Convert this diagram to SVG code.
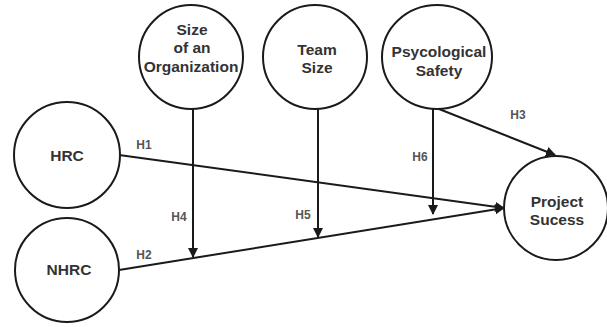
<svg xmlns="http://www.w3.org/2000/svg" width="607" height="327" viewBox="0 0 607 327">
<defs>
<marker id="arr" viewBox="0 0 10 10" refX="9" refY="5" markerWidth="5" markerHeight="5" orient="auto" markerUnits="strokeWidth">
<path d="M0,0 L10,5 L0,10 z" fill="#1a1a1a"/>
</marker>
<style>
.node circle, .node ellipse { fill: #fff; stroke: #1a1a1a; stroke-width: 2; }
.lbl { font-family: "Liberation Sans", Arial, sans-serif; font-weight: bold; font-size: 15.5px; fill: #333; text-anchor: middle; }
.h { font-family: "Liberation Sans", Arial, sans-serif; font-weight: bold; font-size: 12px; fill: #555; text-anchor: middle; }
.edge { stroke: #1a1a1a; stroke-width: 2; fill: none; marker-end: url(#arr); }
</style>
</defs>
<rect width="607" height="327" fill="#fff"/>
<g id="connectors">
<line class="edge" x1="119" y1="155" x2="504" y2="208"/>
<line class="edge" x1="119" y1="270" x2="504" y2="208"/>
<line class="edge" x1="193" y1="109" x2="193" y2="257"/>
<line class="edge" x1="318" y1="109" x2="318" y2="237"/>
<line class="edge" x1="433" y1="109" x2="433" y2="214"/>
<line class="edge" x1="439" y1="109" x2="555" y2="155"/>
<text class="h" x="144" y="149">H1</text>
<text class="h" x="144" y="259">H2</text>
<text class="h" x="518" y="119">H3</text>
<text class="h" x="179" y="221">H4</text>
<text class="h" x="303" y="219">H5</text>
<text class="h" x="420" y="161">H6</text>
</g>
<g id="org" class="node">
<circle cx="191" cy="57" r="52"/>
<text class="lbl" x="192" y="35">Size</text>
<text class="lbl" x="192" y="53">of an</text>
<text class="lbl" x="191" y="72">Organization</text>
</g>
<g id="team" class="node">
<circle cx="315" cy="57" r="52"/>
<text class="lbl" x="317" y="55">Team</text>
<text class="lbl" x="317" y="73">Size</text>
</g>
<g id="psy" class="node">
<ellipse cx="437" cy="57" rx="55" ry="52"/>
<text class="lbl" x="439" y="57">Psycological</text>
<text class="lbl" x="439" y="76">Safety</text>
</g>
<g id="hrc" class="node">
<circle cx="67" cy="155" r="53"/>
<text class="lbl" x="67" y="161">HRC</text>
</g>
<g id="nhrc" class="node">
<circle cx="67" cy="270" r="52"/>
<text class="lbl" x="69" y="275">NHRC</text>
</g>
<g id="ps" class="node">
<circle cx="556" cy="208" r="52"/>
<text class="lbl" x="557" y="207">Project</text>
<text class="lbl" x="557" y="225">Sucess</text>
</g>
</svg>
